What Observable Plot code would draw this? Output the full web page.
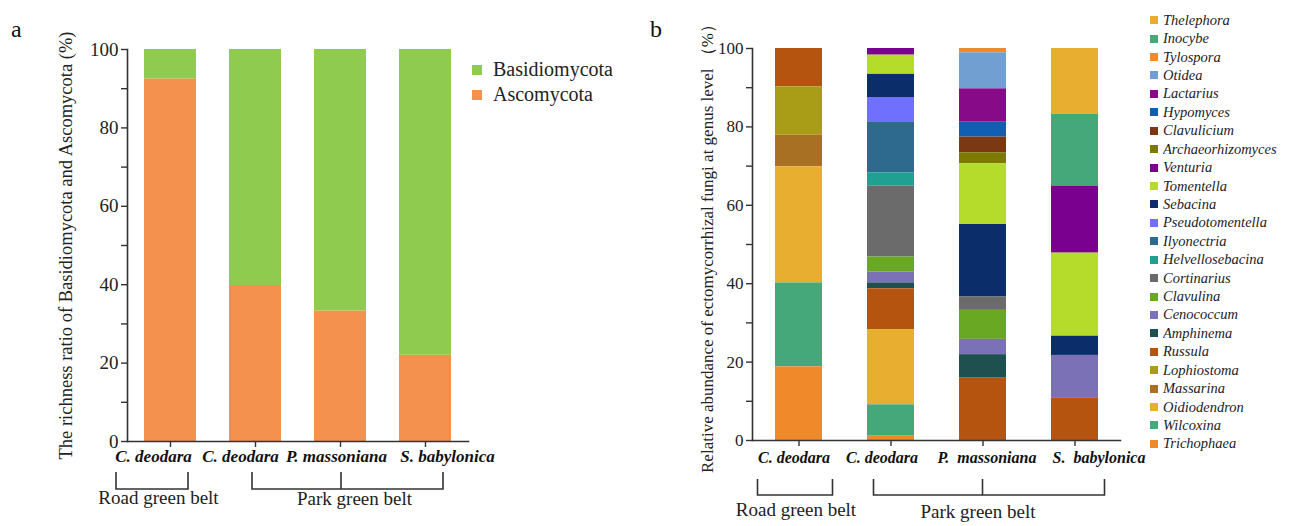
<!DOCTYPE html>
<html><head><meta charset="utf-8">
<script src="https://cdn.jsdelivr.net/npm/d3@7"></script>
<script src="https://cdn.jsdelivr.net/npm/@observablehq/plot@0.6"></script>
<style>
body{margin:0;background:#fff;}
#wrap{position:relative;width:1298px;height:526px;overflow:hidden;font-family:"Liberation Serif",serif;color:#222;}
.abs{position:absolute;}
.panel{font-family:"Liberation Serif",serif;font-size:24px;color:#111;}
.lgA-swatches{font-family:"Liberation Serif",serif !important;font-size:20px !important;color:#222;margin:0 !important;}
.lgA-swatch{height:25px;padding-bottom:0 !important;}
.lgA-swatch > svg{margin-right:11px !important;}
.lgB-swatches{font-family:"Liberation Serif",serif !important;font-size:14.5px !important;font-style:italic;color:#222;margin:0 !important;}
.lgB-swatch{height:18.43px;padding-bottom:0 !important;}
.lgB-swatch > svg{margin-right:5px !important;}
</style></head><body><div id="wrap"></div>
<script>
// ---------- data ----------
const sites = ["Road C. deodara", "Park C. deodara", "P. massoniana", "S. babylonica"];
const tickLabelsA = ["C. deodara", "C. deodara", "P. massoniana", "S. babylonica"];
const tickLabelsB = ["C. deodara", "C. deodara", "P.\u00a0\u00a0massoniana", "S.\u00a0\u00a0babylonica"];
const groupLabels = ["Road green belt", "Park green belt"];

const phyla = ["Basidiomycota", "Ascomycota"];
const ascomycota = [92.5, 39.8, 33.3, 22.0];
const basidiomycota = [7.5, 60.2, 66.7, 78.0];

const genera = ["Thelephora","Inocybe","Tylospora","Otidea","Lactarius","Hypomyces","Clavulicium",
  "Archaeorhizomyces","Venturia","Tomentella","Sebacina","Pseudotomentella","Ilyonectria",
  "Helvellosebacina","Cortinarius","Clavulina","Cenococcum","Amphinema","Russula","Lophiostoma",
  "Massarina","Oidiodendron","Wilcoxina","Trichophaea"];
const roadDeodara   = [0,0,0,0,0,0,0,0,0,0,0,0,0,0,0,0,0,0,9.8,12.3,8.1,29.6,21.4,18.8];
const parkDeodara   = [0,0,0,0,0,0,0,0,1.7,4.9,5.9,6.2,13.0,3.4,18.1,3.8,2.8,1.5,10.4,0,0,19.2,8.0,1.1];
const massoniana    = [0,0,1.1,9.2,8.5,3.8,4.0,2.8,0,15.5,18.5,0,0,0,3.4,7.4,3.9,6.0,15.9,0,0,0,0,0];
const babylonica    = [16.8,18.3,0,0,0,0,0,0,17.1,21.2,4.9,0,0,0,0,0,10.8,0,10.9,0,0,0,0,0];

// ---------- styles ----------
const phylumColors = ["#8FCB4F", "#F5914F"];
const genusColors = ["#E8AE30","#45A87A","#F0892A","#729FD2","#870A88","#115FB3","#7A3912",
  "#7D7A03","#7A0090","#B5DC2A","#0B2E6B","#7070FF","#2E6A8E","#1FA090","#6B6B6B","#69A822",
  "#7B71B6","#1F5050","#B5540F","#A99C16","#A87022","#E8AE30","#45A87A","#F0892A"];
const ink = "#333";
const serif = "Liberation Serif, serif";

// ---------- tables ----------
const tableA = sites.flatMap((s, i) => [
  {site: s, phylum: "Ascomycota", value: ascomycota[i]},
  {site: s, phylum: "Basidiomycota", value: basidiomycota[i]}
]);
const siteSeries = [roadDeodara, parkDeodara, massoniana, babylonica];
const tableB = sites.flatMap((s, i) => genera.map((g, j) => ({site: s, genus: g, value: siteSeries[i][j]}))).filter(d => d.value > 0);

function bracketMark(spec) {
  return (index, scales, values, dim) => {
    const x = scales.x, bw = x.bandwidth();
    const c = i => x(sites[i]) + bw / 2;
    const base = dim.height - dim.marginBottom;
    const g = d3.create("svg:g").attr("fill", "none").attr("stroke", ink).attr("stroke-width", 1.6);
    for (const b of spec) {
      const x1 = c(b.from) + b.dx1, x2 = c(b.to) + b.dx2, yT = base + b.top, yB = base + b.bottom;
      g.append("path").attr("d", `M${x1},${yT}V${yB}H${x2}V${yT}`);
      if (b.mid != null) g.append("path").attr("d", `M${c(b.mid) + b.dxm},${yT}V${yB}`);
    }
    return g.node();
  };
}

function chart(o) {
  return Plot.plot({
    width: o.width, height: 526,
    marginLeft: o.ml, marginRight: o.mr, marginTop: o.mt, marginBottom: o.mb,
    style: {fontFamily: serif, fontSize: o.tickFont + "px", color: "#222", background: "transparent"},
    x: {domain: sites, paddingInner: o.padding, paddingOuter: o.padding / 2, axis: null},
    y: {domain: [0, 100], axis: null},
    color: {domain: o.colorDomain, range: o.colorRange},
    marks: [
      Plot.barY(o.data, {x: "site", y: "value", fill: o.z, order: o.order}),
      Plot.frame({anchor: "left", stroke: ink, strokeWidth: 1.6}),
      Plot.frame({anchor: "bottom", stroke: ink, strokeWidth: 1.6}),
      Plot.axisY({ticks: d3.range(0, 101, 20), tickSize: 6, tickPadding: 3, stroke: ink, strokeWidth: 1.4, label: null, fontSize: o.tickFont}),
      Plot.axisY({ticks: d3.range(10, 100, 20), tickSize: 6, stroke: ink, strokeWidth: 1.4, tickFormat: () => "",
        label: o.ylabel, labelAnchor: "center", labelArrow: "none", labelOffset: o.labelOffset, fontSize: o.labelFont}),
      Plot.axisX({tickSize: 6, stroke: ink, strokeWidth: 1.4, tickFormat: () => "", label: null}),
      ...sites.map((s, i) => Plot.text([s], {x: d => d, frameAnchor: "bottom", dy: o.labelDy, dx: o.labelDx[i],
        text: () => o.tickLabels[i], fontWeight: "bold", fontStyle: "italic", fontSize: o.xFont, fill: "#111"})),
      ...groupLabels.map((t, i) => Plot.text([sites[o.groupAt[i]]], {x: d => d, frameAnchor: "bottom",
        dy: o.groupDy[i], dx: o.groupDx[i], text: () => t, fontSize: 19, fill: "#222"})),
      bracketMark(o.brackets)
    ]
  });
}

const wrap = document.getElementById("wrap");
function place(node, left, top) {
  const d = document.createElement("div");
  d.className = "abs"; d.style.left = left + "px"; d.style.top = top + "px";
  d.appendChild(node); wrap.appendChild(d); return d;
}

const plotA = chart({
  width: 640, ml: 127, mr: 172, mt: 49, mb: 85, padding: 0.39,
  data: tableA, z: "phylum", order: ["Ascomycota", "Basidiomycota"],
  colorDomain: phyla, colorRange: phylumColors,
  tickFont: 19, labelFont: 18.5, xFont: 17,
  ylabel: "The richness ratio of Basidiomycota and Ascomycota (%)", labelOffset: 69,
  tickLabels: tickLabelsA, labelDy: 20, labelDx: [-17, -15, -4, 22],
  groupAt: [0, 2], groupDy: [62, 63], groupDx: [-12, 14],
  brackets: [{from: 0, to: 0, dx1: -54, dx2: 18, top: 31, bottom: 48},
             {from: 1, to: 3, dx1: -3, dx2: 18, top: 31, bottom: 48, mid: 2, dxm: 1}]
});
place(plotA, 0, 0);

const plotB = chart({
  width: 658, ml: 112, mr: 178, mt: 48, mb: 86, padding: 0.49,
  data: tableB, z: "genus", order: genera.slice().reverse(),
  colorDomain: genera, colorRange: genusColors,
  tickFont: 17, labelFont: 17, xFont: 16,
  ylabel: "Relative abundance of ectomycorrhizal fungi at genus level \uff08%\uff09", labelOffset: 52,
  tickLabels: tickLabelsB, labelDy: 22, labelDx: [-5, -9, 4, 24],
  groupAt: [0, 2], groupDy: [75, 77], groupDx: [-3, -5],
  brackets: [{from: 0, to: 0, dx1: -41, dx2: 34, top: 39, bottom: 55},
             {from: 1, to: 3, dx1: -17, dx2: 30, top: 39, bottom: 55, mid: 2, dxm: 0}]
});
place(plotB, 640, 0);

const legA = Plot.legend({color: {domain: phyla, range: phylumColors}, legend: "swatches", columns: 1,
  swatchSize: 10, className: "lgA"});
place(legA, 472, 57);

const legB = Plot.legend({color: {domain: genera, range: genusColors}, legend: "swatches", columns: 1,
  swatchSize: 8, className: "lgB"});
place(legB, 1150, 11);

const pa = document.createElement("div"); pa.className = "abs panel"; pa.textContent = "a";
pa.style.left = "11px"; pa.style.top = "16px"; wrap.appendChild(pa);
const pb = document.createElement("div"); pb.className = "abs panel"; pb.textContent = "b";
pb.style.left = "650px"; pb.style.top = "16px"; wrap.appendChild(pb);
</script></body></html>
